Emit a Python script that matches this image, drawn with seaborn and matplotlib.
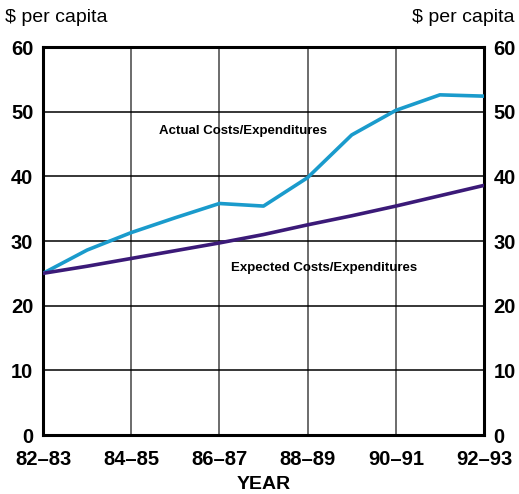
import matplotlib
matplotlib.use("Agg")
import matplotlib.pyplot as plt
import seaborn as sns
import pandas as pd

years = ["82-83", "83-84", "84-85", "85-86", "86-87", "87-88", "88-89", "89-90", "90-91", "91-92", "92-93"]
actual = [25.0, 28.6, 31.3, 33.6, 35.8, 35.4, 39.8, 46.4, 50.2, 52.6, 52.4]
expected = [25.0, 26.1, 27.3, 28.5, 29.7, 31.0, 32.5, 33.9, 35.4, 37.0, 38.6]
tick_labels = ["82–83", "84–85", "86–87", "88–89", "90–91", "92–93"]
yticks = [0, 10, 20, 30, 40, 50, 60]

sns.set_theme(style="white")
plt.rcParams["font.family"] = ["Liberation Sans", "DejaVu Sans"]
plt.rcParams["text.color"] = "black"
plt.rcParams["xtick.color"] = "black"
plt.rcParams["ytick.color"] = "black"
plt.rcParams["axes.labelcolor"] = "black"

df = pd.DataFrame({
    "idx": list(range(len(years))) * 2,
    "value": actual + expected,
    "series": ["Actual"] * len(years) + ["Expected"] * len(years),
})

fig = plt.figure(figsize=(5.19, 4.94), dpi=100)
ax = fig.add_axes([43/519, 59/494, 441/519, 388/494])
sns.lineplot(data=df, x="idx", y="value", hue="series",
             palette={"Actual": "#1a9bcc", "Expected": "#3b1a78"},
             linewidth=2.6, legend=False, ax=ax, zorder=3)

ax.set_xlim(0, 10)
ax.set_ylim(0, 60)
ax.set_xticks(range(0, 11, 2))
ax.set_xticklabels(tick_labels)
ax.set_yticks(yticks)
ax.set_yticklabels([str(v) for v in yticks])
ax.grid(True, axis="y", color="black", linewidth=1.1)
ax.grid(True, axis="x", color="#444444", linewidth=1.1)
for s in ax.spines.values():
    s.set_color("black")
    s.set_linewidth(2.2)
ax.tick_params(axis="x", which="both", direction="out", length=8, width=1, color="#666666",
               labelsize=14.5, pad=3)
ax.tick_params(axis="y", length=0, labelsize=14.5, pad=7, right=True, labelright=True)
for lab in ax.get_xticklabels() + ax.get_yticklabels():
    lab.set_fontweight("bold")
ax.set_xlabel("YEAR", fontsize=14, fontweight="bold", labelpad=5)
ax.set_ylabel("")

ax.text(4.54, 47.0, "Actual Costs/Expenditures", ha="center", va="center",
        fontsize=9.5, fontweight="bold", zorder=4)
ax.text(6.37, 25.8, "Expected Costs/Expenditures", ha="center", va="center",
        fontsize=9.5, fontweight="bold", zorder=4)

fig.text(5/519, 1 - 17/494, "$ per capita", ha="left", va="center", fontsize=14)
fig.text(514/519, 1 - 17/494, "$ per capita", ha="right", va="center", fontsize=14)

fig.savefig("out.png", dpi=100)
